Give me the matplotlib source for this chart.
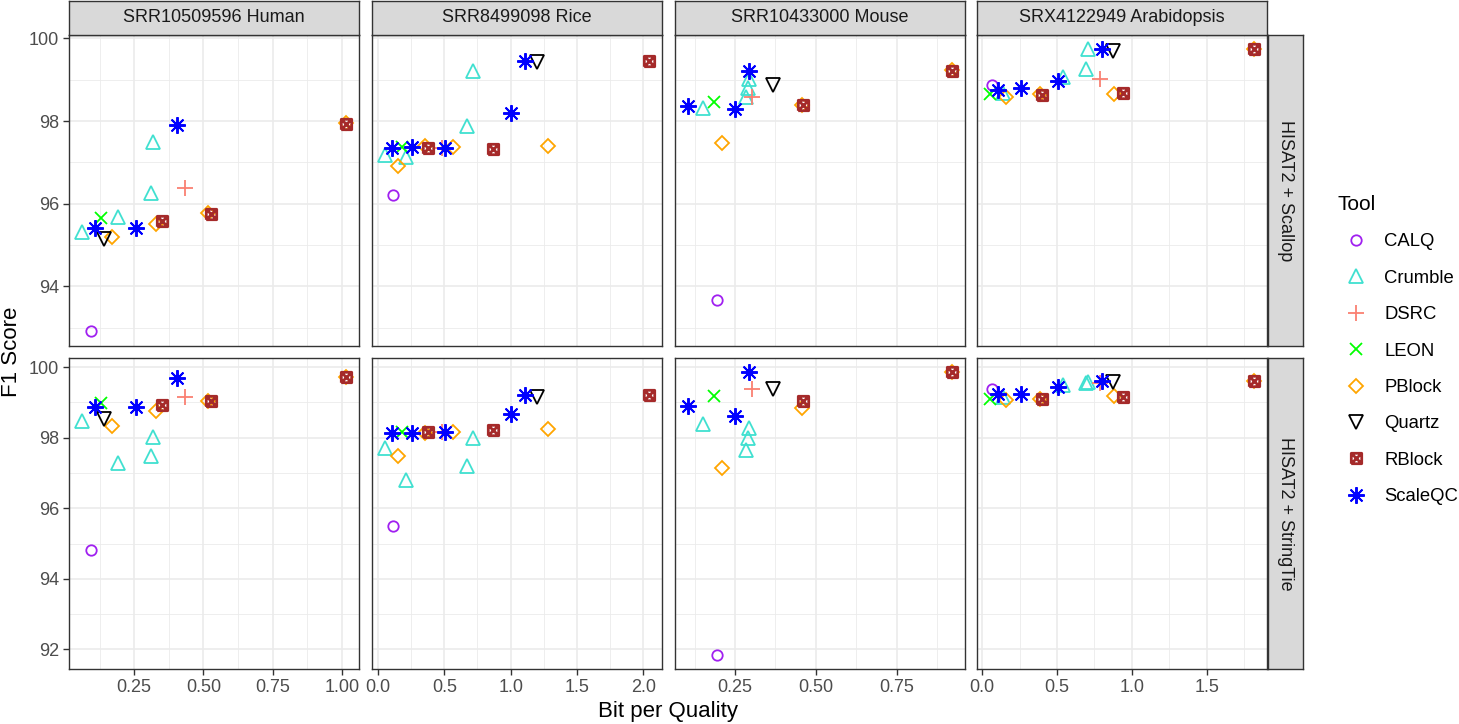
import matplotlib
matplotlib.use('Agg')
import matplotlib.pyplot as plt
from matplotlib.path import Path
from matplotlib.lines import Line2D
from matplotlib.ticker import MultipleLocator, FormatStrFormatter

plt.rcParams['font.family'] = ['Liberation Sans', 'DejaVu Sans']

W, H = 1459, 724  # output size in pixels

datasets = ['SRR10509596 Human', 'SRR8499098 Rice',
            'SRR10433000 Mouse', 'SRX4122949 Arabidopsis']
aligners = ['HISAT2 + Scallop', 'HISAT2 + StringTie']
tools = ['CALQ', 'Crumble', 'DSRC', 'LEON', 'PBlock', 'Quartz', 'RBlock',
         'ScaleQC']

# one entry per point: tool, bit per quality, F1 (Scallop), F1 (StringTie)
human_tool = ['CALQ', 'Crumble', 'Crumble', 'Crumble', 'Crumble', 'DSRC',
              'LEON', 'PBlock', 'PBlock', 'PBlock', 'PBlock', 'Quartz',
              'RBlock', 'RBlock', 'RBlock', 'ScaleQC', 'ScaleQC', 'ScaleQC']
human_bpq = [0.095, 0.063, 0.192, 0.309, 0.318, 0.435, 0.130, 0.170, 0.330,
             0.515, 1.016, 0.139, 0.350, 0.526, 1.016, 0.108, 0.258, 0.404]
human_f1_scallop = [92.91, 95.32, 95.67, 96.26, 97.50, 96.38, 95.66, 95.19,
                    95.51, 95.77, 97.95, 95.14, 95.59, 95.74, 97.94, 95.40,
                    95.40, 97.91]
human_f1_stringtie = [94.83, 98.47, 97.29, 97.49, 98.02, 99.16, 98.99, 98.33,
                      98.75, 99.04, 99.71, 98.52, 98.94, 99.04, 99.71, 98.86,
                      98.86, 99.70]

rice_tool = ['CALQ', 'Crumble', 'Crumble', 'Crumble', 'Crumble', 'DSRC',
             'LEON', 'PBlock', 'PBlock', 'PBlock', 'PBlock', 'Quartz',
             'RBlock', 'RBlock', 'RBlock', 'ScaleQC', 'ScaleQC', 'ScaleQC',
             'ScaleQC', 'ScaleQC']
rice_bpq = [0.1125, 0.0575, 0.2125, 0.675, 0.72, 0.48, 0.18, 0.155, 0.3575,
            0.5675, 1.2825, 1.195, 0.375, 0.865, 2.0425, 0.105, 0.2575, 0.505,
            1.0, 1.1075]
rice_f1_scallop = [96.20, 97.18, 97.14, 97.87, 99.20, 97.35, 97.36, 96.92,
                   97.39, 97.36, 97.40, 99.42, 97.34, 97.32, 99.45, 97.34,
                   97.36, 97.34, 98.19, 99.45]
rice_f1_stringtie = [95.50, 97.72, 96.79, 97.20, 97.98, 98.15, 98.17, 97.48,
                     98.12, 98.15, 98.24, 99.16, 98.15, 98.21, 99.22, 98.14,
                     98.14, 98.15, 98.66, 99.22]

mouse_tool = ['CALQ', 'Crumble', 'Crumble', 'Crumble', 'Crumble', 'DSRC',
              'LEON', 'PBlock', 'PBlock', 'PBlock', 'Quartz', 'RBlock',
              'RBlock', 'ScaleQC', 'ScaleQC', 'ScaleQC']
mouse_bpq = [0.195, 0.151, 0.284, 0.289, 0.292, 0.301, 0.184, 0.209, 0.458,
             0.920, 0.368, 0.459, 0.920, 0.1045, 0.251, 0.294]
mouse_f1_scallop = [93.68, 98.31, 98.57, 98.79, 99.02, 98.57, 98.47, 97.46,
                    98.39, 99.23, 98.87, 98.39, 99.22, 98.37, 98.29, 99.22]
mouse_f1_stringtie = [91.85, 98.40, 97.66, 98.00, 98.28, 99.37, 99.18, 97.15,
                      98.83, 99.85, 99.37, 99.04, 99.85, 98.90, 98.61, 99.85]

arab_tool = ['CALQ', 'Crumble', 'Crumble', 'Crumble', 'Crumble', 'DSRC',
             'LEON', 'PBlock', 'PBlock', 'PBlock', 'PBlock', 'Quartz',
             'RBlock', 'RBlock', 'RBlock', 'ScaleQC', 'ScaleQC', 'ScaleQC',
             'ScaleQC']
arab_bpq = [0.067, 0.14, 0.54, 0.695, 0.707, 0.79, 0.055, 0.156, 0.389,
            0.878, 1.818, 0.873, 0.40, 0.94, 1.818, 0.107, 0.256, 0.504,
            0.804]
arab_f1_scallop = [98.87, 98.69, 99.07, 99.26, 99.74, 99.02, 98.65, 98.57,
                   98.65, 98.65, 99.74, 99.70, 98.64, 98.69, 99.74, 98.75,
                   98.80, 98.97, 99.74]
arab_f1_stringtie = [99.39, 99.16, 99.49, 99.55, 99.58, 99.54, 99.11, 99.06,
                     99.11, 99.19, 99.61, 99.57, 99.11, 99.16, 99.61, 99.25,
                     99.25, 99.44, 99.61]

panel_data = [
    (human_tool, human_bpq, human_f1_scallop, human_f1_stringtie),
    (rice_tool, rice_bpq, rice_f1_scallop, rice_f1_stringtie),
    (mouse_tool, mouse_bpq, mouse_f1_scallop, mouse_f1_stringtie),
    (arab_tool, arab_bpq, arab_f1_scallop, arab_f1_stringtie),
]

# ggplot-like shape 7: square with a cross inside
sq_cross = Path([(-1, -1), (1, -1), (1, 1), (-1, 1), (-1, -1),
                 (-1, -1), (1, 1), (-1, 1), (1, -1)],
                [Path.MOVETO, Path.LINETO, Path.LINETO, Path.LINETO,
                 Path.LINETO, Path.MOVETO, Path.LINETO, Path.MOVETO,
                 Path.LINETO])

style = {
    'CALQ': dict(marker='o', color='#A020F0', ms=7.5, mew=1.3),
    'Crumble': dict(marker='^', color='#40E0D0', ms=10, mew=1.3),
    'DSRC': dict(marker='+', color='#FA8072', ms=12, mew=1.3),
    'LEON': dict(marker='x', color='#00FF00', ms=8.5, mew=1.3),
    'PBlock': dict(marker='D', color='#FFA500', ms=7, mew=1.3),
    'Quartz': dict(marker='v', color='black', ms=10, mew=1.3),
    'RBlock': dict(marker=sq_cross, color='#A52A2A', ms=7.5, mew=2.0),
    'ScaleQC': dict(marker=(8, 2, 0), color='#0000FF', ms=12, mew=1.4),
}

col_left = [69.3, 372.3, 674.8, 977.3]
col_w = 290.0
row_top = [35.0, 358.3]
row_h = 310.5
xstep = [0.25, 0.5, 0.25, 0.5]
xfmt = ['%.2f', '%.1f', '%.2f', '%.1f']

border = '#333333'
grid = '#EBEBEB'
tick_txt = '#4D4D4D'


def px_rect(left, top, w, h):
    return [left / W, 1 - (top + h) / H, w / W, h / H]


def expand(vals):
    lo, hi = min(vals), max(vals)
    pad = (hi - lo) * 0.05
    return lo - pad, hi + pad


def strip_axes(rect, label, rotation):
    sax = fig.add_axes(rect)
    sax.set_facecolor('#D9D9D9')
    sax.set_xticks([])
    sax.set_yticks([])
    for sp in sax.spines.values():
        sp.set_color(border)
        sp.set_linewidth(1.0)
    sax.text(0.5, 0.5, label, ha='center', va='center', rotation=rotation,
             fontsize=13, color='#1A1A1A', transform=sax.transAxes)


fig = plt.figure(figsize=(W / 100, H / 100), dpi=100)

# free scales: x shared down each column, y shared across each row
xlims = [expand(d[1]) for d in panel_data]
ylims = [expand([v for d in panel_data for v in d[2 + r]]) for r in range(2)]

for r in range(2):
    for c in range(4):
        tool_col, bpq, f1s, f1t = panel_data[c]
        f1 = f1s if r == 0 else f1t
        ax = fig.add_axes(px_rect(col_left[c], row_top[r], col_w, row_h))
        for t in tools:
            xs = [x for x, tt in zip(bpq, tool_col) if tt == t]
            ys = [y for y, tt in zip(f1, tool_col) if tt == t]
            st = style[t]
            ax.plot(xs, ys, linestyle='none', marker=st['marker'],
                    ms=st['ms'], mec=st['color'], mfc='none', mew=st['mew'],
                    zorder=3)
        ax.set_xlim(xlims[c])
        ax.set_ylim(ylims[r])
        ax.xaxis.set_major_locator(MultipleLocator(xstep[c]))
        ax.xaxis.set_minor_locator(MultipleLocator(xstep[c] / 2))
        ax.xaxis.set_major_formatter(FormatStrFormatter(xfmt[c]))
        ax.yaxis.set_major_locator(MultipleLocator(2))
        ax.yaxis.set_minor_locator(MultipleLocator(1))
        ax.grid(which='major', color=grid, lw=1.2, zorder=0)
        ax.grid(which='minor', color=grid, lw=0.6, zorder=0)
        ax.set_axisbelow(True)
        for sp in ax.spines.values():
            sp.set_color(border)
            sp.set_linewidth(1.0)
        ax.tick_params(which='minor', length=0)
        ax.tick_params(which='major', length=4.5, width=1.0, color=border,
                       labelsize=13, labelcolor=tick_txt, pad=3)
        if c != 0:
            ax.tick_params(axis='y', length=0, labelleft=False)
        if r != 1:
            ax.tick_params(axis='x', length=0, labelbottom=False)

        if r == 0:
            strip_axes(px_rect(col_left[c], 1.0, col_w, 34.0), datasets[c], 0)

    strip_axes(px_rect(col_left[3] + col_w + 1, row_top[r], 35.0, row_h),
               aligners[r], -90)

fig.text(12 / W, 1 - 352 / H, 'F1 Score', rotation=90, ha='center',
         va='center', fontsize=16)
fig.text(668 / W, 1 - 711 / H, 'Bit per Quality', ha='center', va='center',
         fontsize=16)

handles = [Line2D([], [], linestyle='none', marker=style[t]['marker'],
                  ms=style[t]['ms'], mec=style[t]['color'], mfc='none',
                  mew=style[t]['mew']) for t in tools]
fig.legend(handles, tools, loc='upper left',
           bbox_to_anchor=(1338 / W, 1 - 195 / H), frameon=False,
           title='Tool', title_fontsize=15, fontsize=13.3,
           alignment='left', handlelength=2.0, handletextpad=0.5,
           labelspacing=1.05, borderpad=0, borderaxespad=0, numpoints=1)

fig.savefig('out.png', dpi=100)
